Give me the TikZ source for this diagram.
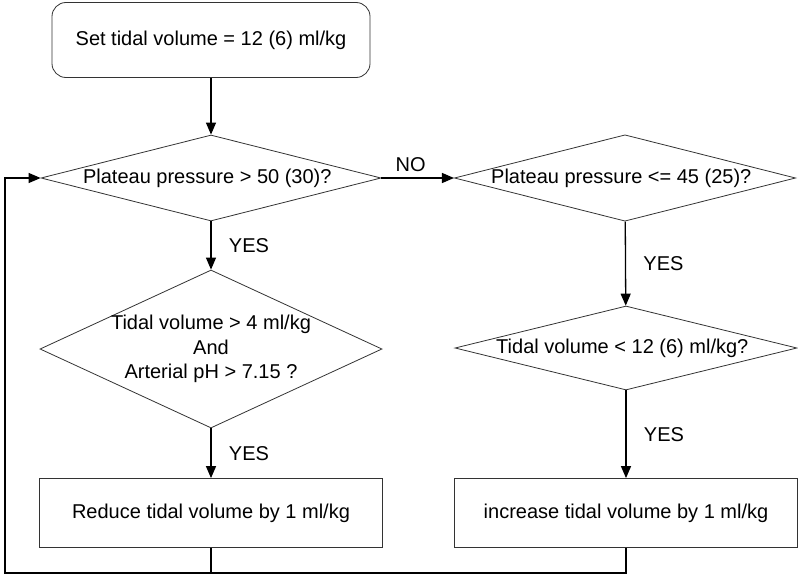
\documentclass[tikz,border=0pt]{standalone}
\usepackage{fontspec}
\setmainfont{Liberation Sans}
\usetikzlibrary{shapes.geometric,arrows.meta}
\begin{document}
\begin{tikzpicture}[x=1pt,y=-1pt,line width=1.3pt,
    font=\fontsize{20}{24.5}\selectfont,
    >={Triangle[length=12pt,width=10pt]},
    decision/.style={draw=black!80,line width=0.8pt,diamond,inner sep=0pt,align=center},
    action/.style={draw=black!80,line width=0.8pt,rectangle,minimum width=343pt,minimum height=69pt}]
            \useasboundingbox (0,0) rectangle (798,578);

            \node[draw=black!80,line width=0.8pt,rounded corners=14pt,minimum width=318pt,minimum height=75pt] (set) at (211, 40) { Set tidal volume = 12 (6) ml/kg };
            \node[decision,aspect=3.95,minimum width=340pt,minimum height=86pt] (pp50) at (211, 178) { Plateau pressure > 50 (30)? };
            \node[decision,aspect=3.95,minimum width=340pt,minimum height=86pt] (pp45) at (625, 178) { Plateau pressure <= 45 (25)? };
            \node[decision,aspect=2.165,inner sep=-3pt,minimum width=342pt,minimum height=158pt] (tvph) at (211, 349) { Tidal volume > 4 ml/kg\\And\\Arterial pH > 7.15 ? };
            \node[decision,aspect=4.07,minimum width=342pt,minimum height=84pt] (tv12) at (626, 348) { Tidal volume < 12 (6) ml/kg? };
            \node[action] (reduce) at (211, 513) { Reduce tidal volume by 1 ml/kg };
            \node[action] (raise) at (626, 513) { increase tidal volume by 1 ml/kg };
            \coordinate (corner) at (5, 573);

            \draw[->] (set) edge (pp50);
            \draw[->] (pp50) edge node[anchor=south, xshift=-7pt, yshift=2pt] { NO } (pp45);
            \draw[->] (pp50) edge node[anchor=west, xshift=14pt] { YES } (tvph);
            \draw[->] (pp45) edge node[anchor=west, xshift=14pt] { YES } (tv12);
            \draw[->] (tvph) edge node[anchor=west, xshift=14pt] { YES } (reduce);
            \draw[->] (tv12) edge node[anchor=west, xshift=14pt] { YES } (raise);
            \draw[->] (reduce.south) -- (reduce.south |- corner) -- (corner) |- (pp50.west);
            \draw (raise.south) |- (reduce.south |- corner);
        \end{tikzpicture}
\end{document}
